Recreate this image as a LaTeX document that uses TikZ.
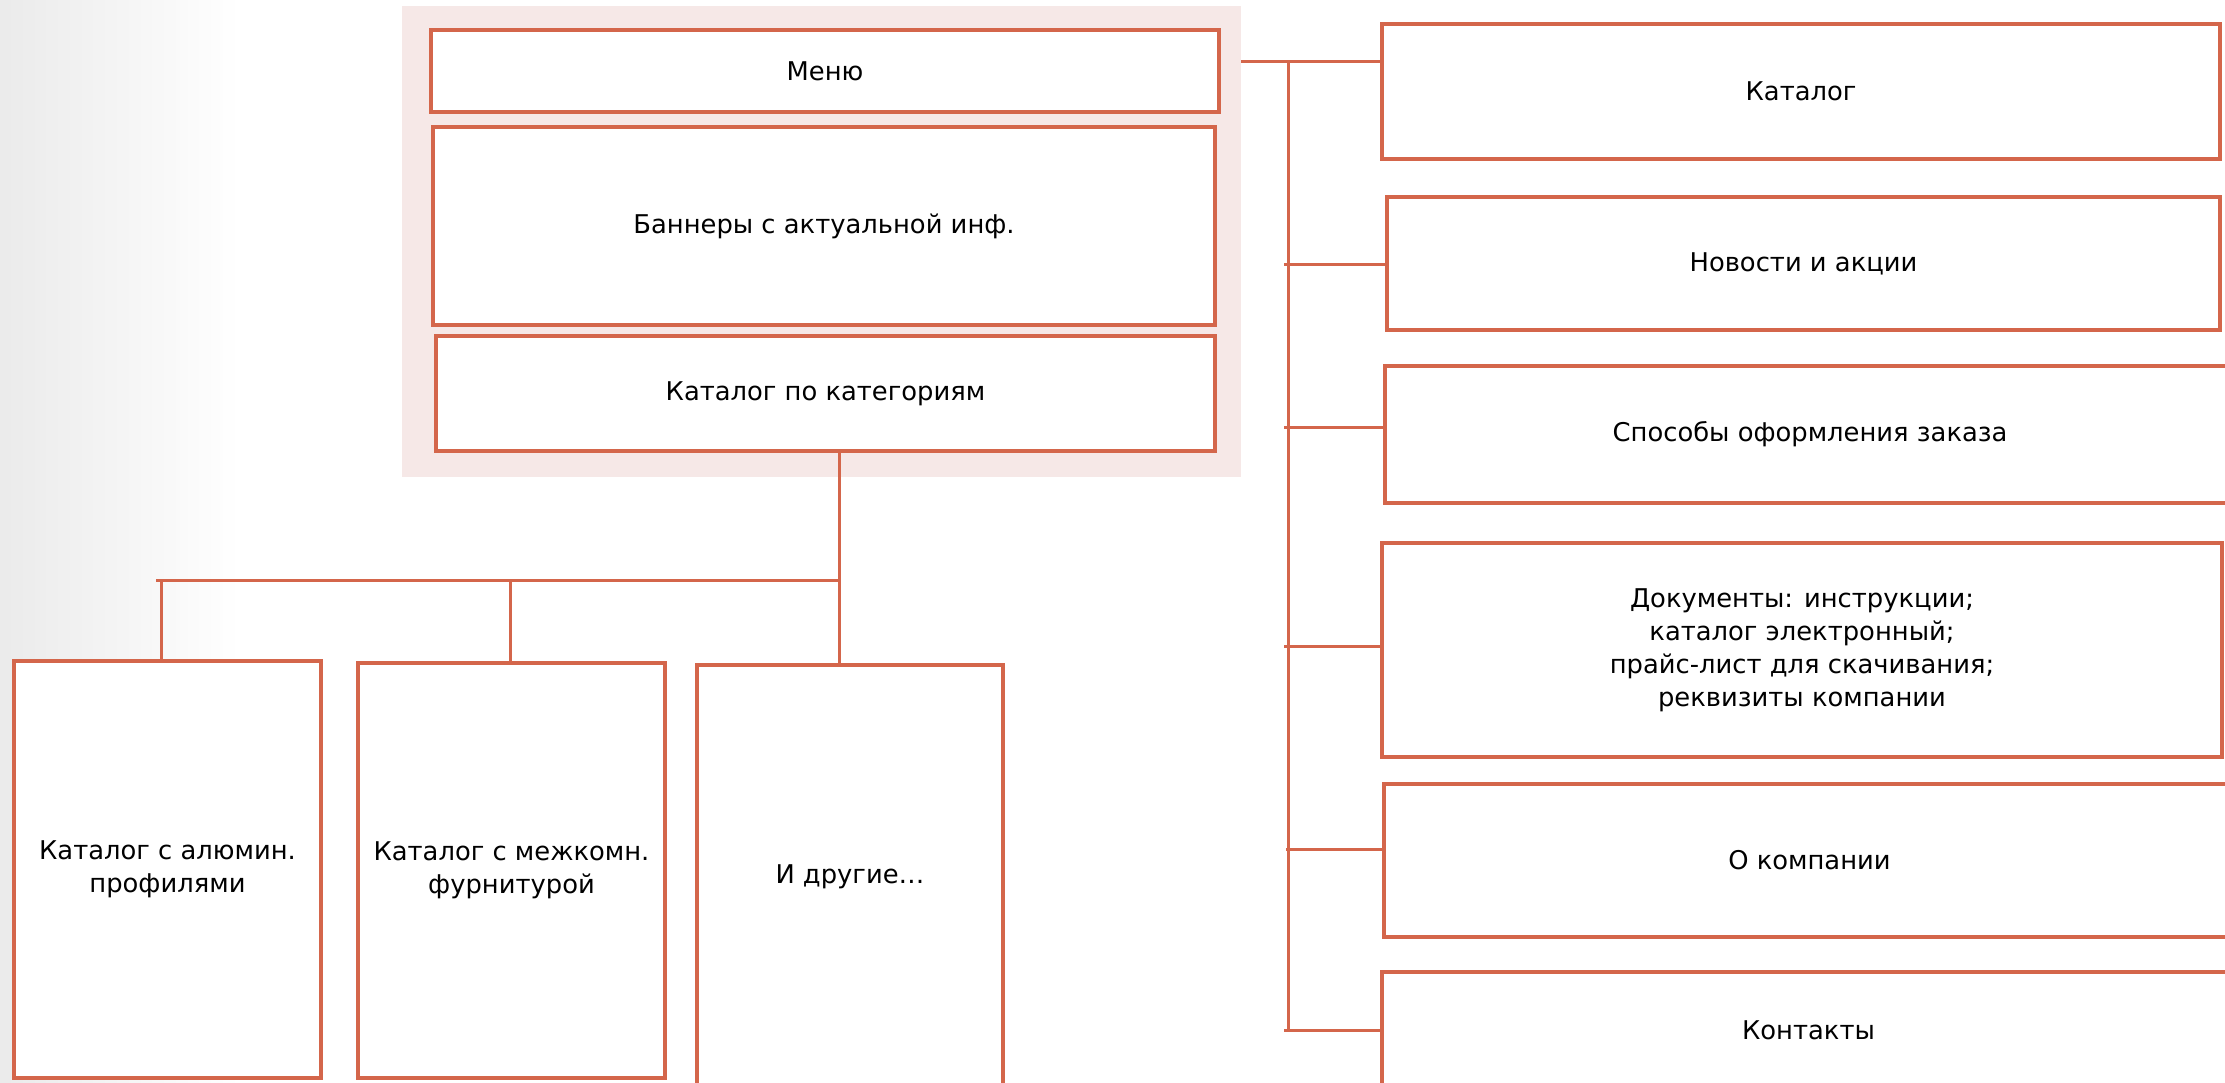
\documentclass[tikz,border=0pt]{standalone}
\usepackage{fontspec}
\setmainfont{DejaVu Sans}
\definecolor{brick}{HTML}{D4664B}
\definecolor{blush}{HTML}{F6E8E7}

\begin{document}
\begin{tikzpicture}[
    x=1pt, y=-1pt,
    blk/.style={draw=brick, line width=4.5pt, fill=white, inner sep=0pt,
        align=center, font=\fontsize{25.8}{33}\selectfont},
    link/.style={draw=brick, line width=3pt}
  ]
  \useasboundingbox (0,0) rectangle (2225,1082);
  \clip (0,0) rectangle (2225,1082);
  \shade[left color=black!8, right color=white] (0,0) rectangle (240,1082);
  \fill[blush] (402,6) rectangle (1241,477);
  \coordinate (bgE) at (1241,61);

  \node[blk, minimum width=788pt, minimum height=82pt] (menu) at (825,71) {Меню};
  \node[blk, minimum width=782pt, minimum height=198pt] (banner) at (824,226) {Баннеры с актуальной инф.};
  \node[blk, minimum width=779pt, minimum height=115pt] (catbox) at (825.5,393.5) {Каталог по категориям};

  \node[blk, minimum width=307pt, minimum height=417pt] (b1) at (167.5,869.5) {Каталог с алюмин.\\профилями};
  \node[blk, minimum width=307pt, minimum height=415pt] (b2) at (511.5,870.5) {Каталог с межкомн.\\фурнитурой};
  \node[blk, minimum width=306pt, minimum height=424pt] (b3) at (850,877) {И другие…};

  \node[blk, minimum width=838pt, minimum height=135pt] (r1) at (1801,91.5) {Каталог};
  \node[blk, minimum width=833pt, minimum height=133pt] (r2) at (1803.5,263.5) {Новости и акции};
  \node[blk, minimum width=850pt, minimum height=137pt] (r3) at (1810,434.5) {Способы оформления заказа};
  \node[blk, minimum width=840pt, minimum height=214pt] (r4) at (1802,650) {Документы: инструкции;\\каталог электронный;\\прайс-лист для скачивания;\\реквизиты компании};
  \node[blk, minimum width=851pt, minimum height=153pt] (r5) at (1809.5,860.5) {О компании};
  \node[blk, minimum width=853pt, minimum height=116pt] (r6) at (1808.5,1030) {Контакты};

  \coordinate (hub) at (839,580);
  \coordinate (hubL) at (156,580);
  \coordinate (d1) at (161,580);
  \coordinate (d2) at (510,580);
  \draw[link] (hub |- catbox.south) -- (hub |- b3.north);
  \draw[link] (hubL) -- (hub);
  \draw[link] (d1) -- (d1 |- b1.north);
  \draw[link] (d2) -- (d2 |- b2.north);

  \coordinate (t0) at (1288,61);
  \coordinate (t2) at (1284,264);
  \coordinate (t3) at (1284,427);
  \coordinate (t4) at (1284,646);
  \coordinate (t5) at (1286,849);
  \coordinate (t6) at (1284,1030);
  \draw[link] (bgE) -- (t0 -| r1.west);
  \draw[link] (t0) -- (t0 |- t6);
  \draw[link] (t2) -- (t2 -| r2.west);
  \draw[link] (t3) -- (t3 -| r3.west);
  \draw[link] (t4) -- (t4 -| r4.west);
  \draw[link] (t5) -- (t5 -| r5.west);
  \draw[link] (t6) -- (r6.west);
\end{tikzpicture}
\end{document}
